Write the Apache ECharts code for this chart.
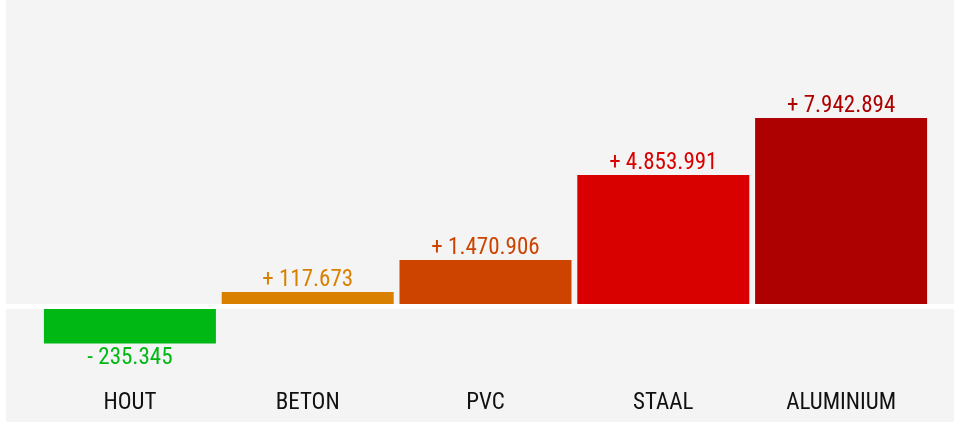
<!DOCTYPE html>
<html>
<head>
<meta charset="utf-8">
<script src="https://cdn.jsdelivr.net/npm/echarts@6/dist/echarts.min.js"></script>
<style>
  html, body { margin: 0; padding: 0; background: #fff; }
  #chart { position: absolute; left: 6px; top: 0; width: 948px; height: 422px; background: #f4f4f4; }
</style>
</head>
<body>
<div id="chart"></div>
<script>
// materialen en verschil (printed figures)
const categories = ['HOUT', 'BETON', 'PVC', 'STAAL', 'ALUMINIUM']
const changes = [-235345, 117673, 1470906, 4853991, 7942894]
// bar length as drawn in the picture (relative units, picture has no value axis)
const barLength = [-37, 14.5, 46.5, 131.5, 188.5]
const colors = ['#00b814', '#d98000', '#cc4400', '#d90000', '#ad0000']

const fmt = (v) => {
  const s = String(Math.abs(v)).replace(/\B(?=(\d{3})+(?!\d))/g, '.')
  return (v < 0 ? '- ' : '+ ') + s
}

const chart = echarts.init(document.getElementById('chart'))
const option = {
  animation: false,
  textStyle: { fontFamily: 'Roboto Condensed, Liberation Sans Narrow, Roboto' },
  grid: { left: 35, right: 24, top: 66.5, bottom: 55.5 },
  xAxis: {
    type: 'category',
    data: categories,
    axisLine: { show: false, onZero: false },
    axisTick: { show: false },
    axisLabel: { color: '#111', fontSize: 23, margin: 25 }
  },
  yAxis: {
    type: 'value',
    min: -60,
    max: 240,
    show: false,
    splitLine: { show: false }
  },
  series: [
    {
      type: 'bar',
      barWidth: 172,
      data: barLength.map((v, i) => ({
        value: v,
        itemStyle: { color: colors[i] },
        label: {
          show: true,
          position: v < 0 ? 'bottom' : 'top',
          distance: v < 0 ? 3 : 0,
          color: colors[i],
          fontSize: 23,
          formatter: fmt(changes[i])
        }
      }))
    }
  ]
}
chart.setOption(option)

// white zero line across the full panel
const zeroY = chart.convertToPixel({ yAxisIndex: 0 }, 0)
chart.setOption({
  graphic: [{
    type: 'rect',
    z: 100,
    shape: { x: 0, y: zeroY - 2.5, width: 948, height: 5 },
    style: { fill: '#fff' }
  }]
})

window.addEventListener('resize', () => {
  chart.resize()
})
</script>
</body>
</html>
